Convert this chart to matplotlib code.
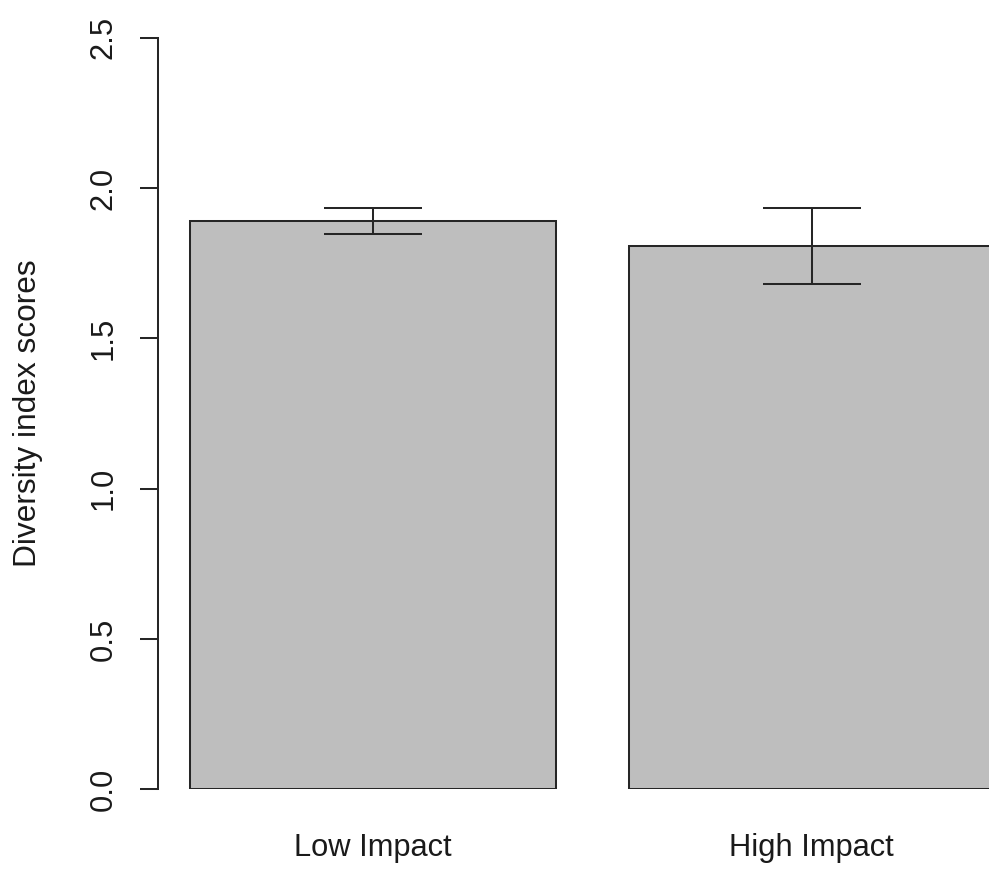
import matplotlib
matplotlib.use("Agg")
import matplotlib.pyplot as plt

# Diversity index by site impact level (mean and standard error)
groups = ["Low Impact", "High Impact"]
means = [1.89, 1.807]
errors = [0.044, 0.126]
y_ticks = [0.0, 0.5, 1.0, 1.5, 2.0, 2.5]
y_tick_labels = ["0.0", "0.5", "1.0", "1.5", "2.0", "2.5"]

plt.rcParams["font.family"] = ["Liberation Sans", "DejaVu Sans"]

W, H = 989, 872
fig = plt.figure(figsize=(W / 100, H / 100), dpi=100)

# plot region in pixels (R-style barplot layout: width 1, space 0.2)
px_left, px_bottom, px_top = 158, 789.3, 37.7
units = 365.5
xlim = (0.112, 2.488)
ax_w = (xlim[1] - xlim[0]) * units
ax = fig.add_axes([px_left / W, (H - px_bottom) / H, ax_w / W, (px_bottom - px_top) / H])

ink = "#262626"
lw = 1.45
centers = [0.7, 1.9]
ax.bar(centers, means, width=1.0, color="#bebebe", edgecolor=ink, linewidth=lw, zorder=2)
ax.errorbar(centers, means, yerr=errors, fmt="none", ecolor=ink, elinewidth=lw,
            capsize=35.3, capthick=lw, zorder=3)

ax.set_xlim(*xlim)
ax.set_ylim(0, 2.5)

for s in ["top", "right", "bottom"]:
    ax.spines[s].set_visible(False)
ax.spines["left"].set_color(ink)
ax.spines["left"].set_linewidth(lw)
ax.spines["left"].set_bounds(0, 2.5)

fs = 22.2
ax.set_yticks(y_ticks)
ax.set_yticklabels(y_tick_labels, rotation=90, va="center", fontsize=fs, color="#1a1a1a")
ax.tick_params(axis="y", length=13, width=lw, color=ink, pad=15.5)

ax.set_xticks(centers)
ax.set_xticklabels(groups, fontsize=fs, color="#1a1a1a")
ax.tick_params(axis="x", length=0, pad=31.5)

fig.text(28 / W, 1 - 413 / H, "Diversity index scores", rotation=90,
         ha="center", va="center", fontsize=22.8, color="#1a1a1a")

fig.savefig("out.png", dpi=100, facecolor="white")
